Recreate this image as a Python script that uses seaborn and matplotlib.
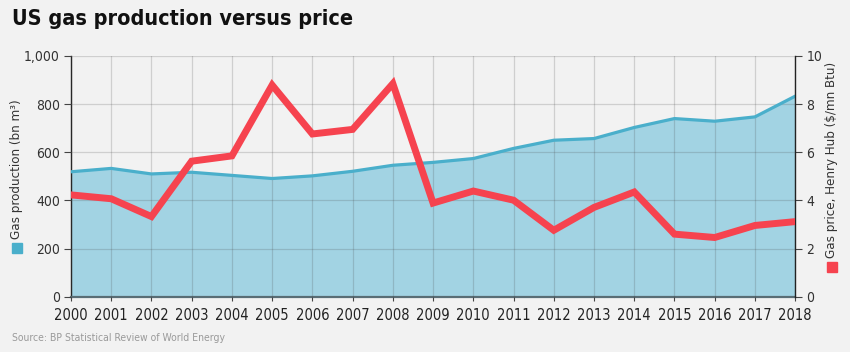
import matplotlib
matplotlib.use("Agg")
import matplotlib.pyplot as plt
import matplotlib.patches as mpatches
from matplotlib.ticker import FuncFormatter
import seaborn as sns
import pandas as pd

# data
years = list(range(2000, 2019))
production = [519, 533, 510, 517, 504, 491, 502, 521, 546, 558,
              574, 616, 650, 657, 703, 740, 729, 747, 833]
price = [4.23, 4.07, 3.33, 5.63, 5.85, 8.79, 6.76, 6.95, 8.85, 3.89,
         4.39, 4.01, 2.76, 3.71, 4.35, 2.60, 2.46, 2.96, 3.12]

df = pd.DataFrame({"year": years, "production": production, "price": price})

BG = "#f2f2f2"
BLUE = "#4aafcb"
FILL = "#a2d3e3"
RED = "#f6434f"

sns.set_theme(style="white")
plt.rcParams["font.family"] = ["DejaVu Sans"]
plt.rcParams["font.stretch"] = "condensed"

fig = plt.figure(figsize=(8.5, 3.52), dpi=100, facecolor=BG)
ax = fig.add_axes([0.0835, 0.157, 0.852, 0.684])
ax.set_facecolor(BG)

ax.fill_between(df["year"], df["production"], color=FILL, zorder=1, lw=0)
sns.lineplot(data=df, x="year", y="production", ax=ax, color=BLUE, lw=2.3, zorder=3)

ax.set_xlim(2000, 2018)
ax.set_ylim(0, 1000)
ax.set_xticks(years)
ax.set_yticks(range(0, 1001, 200))
ax.yaxis.set_major_formatter(FuncFormatter(lambda v, p: f"{int(v):,}"))
ax.set_axisbelow(False)
ax.grid(True, color="#444444", alpha=0.2, lw=0.9)
ax.set_xlabel("")
ax.set_ylabel("")

ax.spines["top"].set_visible(False)
ax.spines["right"].set_visible(False)
ax.spines["left"].set_color("#222222")
ax.spines["left"].set_linewidth(1.0)
ax.spines["bottom"].set_color("#5a6e76")
ax.spines["bottom"].set_linewidth(1.6)
ax.tick_params(axis="y", direction="out", length=5, width=0.8, color="#444444",
               labelsize=10, labelcolor="#333333", pad=3, left=True)
ax.tick_params(axis="x", direction="out", length=3, width=0.8, color="#444444",
               labelsize=10.5, labelcolor="#222222", pad=5, bottom=True)

ax2 = ax.twinx()
sns.lineplot(data=df, x="year", y="price", ax=ax2, color=RED, lw=5, zorder=4,
             solid_joinstyle="miter")
ax2.set_ylim(0, 10)
ax2.set_yticks(range(0, 11, 2))
ax2.set_ylabel("")
ax2.grid(False)
for s in ["top", "left", "bottom"]:
    ax2.spines[s].set_visible(False)
ax2.spines["right"].set_color("#222222")
ax2.spines["right"].set_linewidth(1.0)
ax2.tick_params(axis="y", direction="out", length=5, width=0.8, color="#444444",
                labelsize=10, labelcolor="#333333", pad=3, right=True)

# title and source
fig.text(0.014, 0.945, "US gas production versus price", fontsize=15.5,
         fontweight="bold", color="#111111", va="center", ha="left")
fig.text(0.014, 0.04, "Source: BP Statistical Review of World Energy",
         fontsize=7.5, color="#9a9a9a", va="center", ha="left")

# axis labels with coloured squares
W, H = 850, 352
fig.patches.append(mpatches.Rectangle((12 / W, 1 - 253 / H), 10 / W, 10 / H,
                                      transform=fig.transFigure, color=BLUE))
fig.text(17 / W, 1 - 239 / H, "Gas production (bn m³)", rotation=90,
         fontsize=9.5, color="#333333", ha="center", va="bottom")
fig.patches.append(mpatches.Rectangle((827 / W, 1 - 272 / H), 10 / W, 10 / H,
                                      transform=fig.transFigure, color=RED))
fig.text(832 / W, 1 - 258 / H, "Gas price, Henry Hub ($/mn Btu)", rotation=90,
         fontsize=9.5, color="#333333", ha="center", va="bottom")

fig.savefig("out.png", dpi=100, facecolor=BG)
